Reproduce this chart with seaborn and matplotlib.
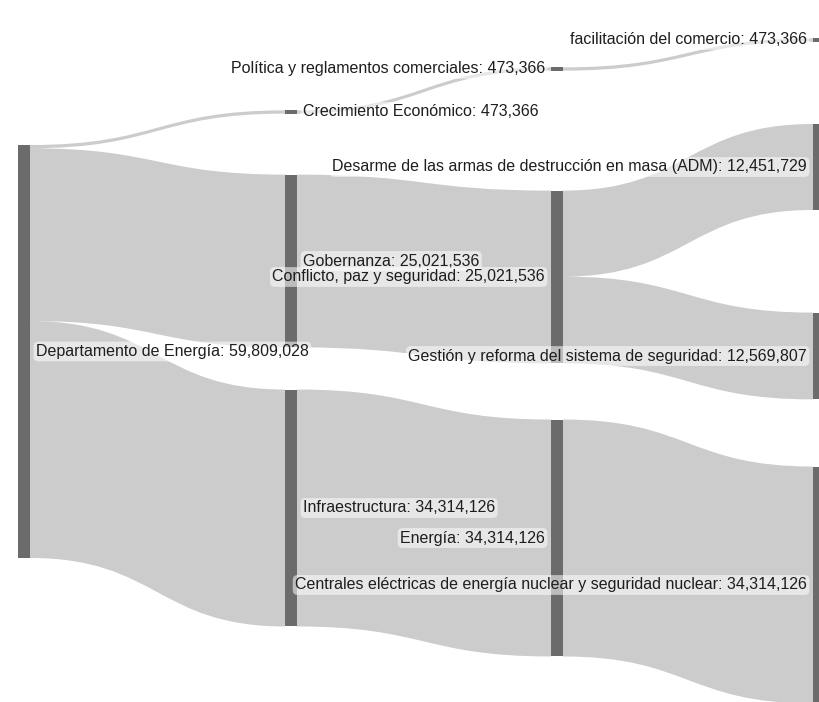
import numpy as np
import matplotlib
matplotlib.use("Agg")
import matplotlib.pyplot as plt
from matplotlib.path import Path
from matplotlib.patches import PathPatch, Rectangle
import seaborn as sns

# ---------------- data ----------------
node_names = [
    "Departamento de Energía",
    "Crecimiento Económico",
    "Gobernanza",
    "Infraestructura",
    "Política y reglamentos comerciales",
    "Conflicto, paz y seguridad",
    "Energía",
    "facilitación del comercio",
    "Desarme de las armas de destrucción en masa (ADM)",
    "Gestión y reforma del sistema de seguridad",
    "Centrales eléctricas de energía nuclear y seguridad nuclear",
]
link_source = [0, 0, 0, 1, 2, 3, 4, 5, 5, 6]
link_target = [1, 2, 3, 4, 5, 6, 7, 8, 9, 10]
link_value = [473366, 25021536, 34314126, 473366, 25021536, 34314126,
              473366, 12451729, 12569807, 34314126]

# ---------------- layout (positions / style, in pixel frame) ----------------
node_col_left = [18, 285, 285, 285, 551, 551, 551, 813, 813, 813, 813]
node_center = [351.5, 112, 261, 508, 69, 277, 538, 40, 167, 356, 585]
node_w = 12
px_per_unit = 413.0 / 59809028
node_color = "#6b6b6b"
link_color = (0, 0, 0, 0.2)
W, H = 820, 702

sns.set_theme(style="white")
plt.rcParams["font.family"] = ["Liberation Sans", "DejaVu Sans"]

fig = plt.figure(figsize=(W / 100, H / 100), dpi=100)
ax = fig.add_axes([0, 0, 1, 1])
ax.set_xlim(0, W)
ax.set_ylim(H, 0)
ax.axis("off")

n = len(node_names)
inflow = np.zeros(n)
outflow = np.zeros(n)
for s, t, v in zip(link_source, link_target, link_value):
    outflow[s] += v
    inflow[t] += v
node_value = np.maximum(inflow, outflow)
node_h = node_value * px_per_unit
node_top = np.array(node_center) - node_h / 2

# links
out_off = node_top.copy()
in_off = node_top.copy()
order = sorted(range(len(link_value)), key=lambda i: (link_source[i], node_center[link_target[i]]))
for i in order:
    s, t, v = link_source[i], link_target[i], link_value[i]
    w = v * px_per_unit
    x0 = node_col_left[s] + node_w
    x1 = node_col_left[t]
    s0, s1 = out_off[s], out_off[s] + w
    t0, t1 = in_off[t], in_off[t] + w
    out_off[s] += w
    in_off[t] += w
    xm = (x0 + x1) / 2
    verts = [(x0, s0), (xm, s0), (xm, t0), (x1, t0),
             (x1, t1), (xm, t1), (xm, s1), (x0, s1), (x0, s0)]
    codes = [Path.MOVETO, Path.CURVE4, Path.CURVE4, Path.CURVE4,
             Path.LINETO, Path.CURVE4, Path.CURVE4, Path.CURVE4, Path.CLOSEPOLY]
    ax.add_patch(PathPatch(Path(verts, codes), facecolor=link_color, edgecolor="none", zorder=1))

# nodes + labels
for i in range(n):
    ax.add_patch(Rectangle((node_col_left[i], node_top[i]), node_w, max(node_h[i], 2.5),
                           facecolor=node_color, edgecolor="none", zorder=2))
    label = f"{node_names[i]}: {int(node_value[i]):,}"
    if node_col_left[i] < W / 2:
        x, ha = node_col_left[i] + node_w + 6, "left"
    else:
        x, ha = node_col_left[i] - 6, "right"
    ax.text(x, node_center[i], label, ha=ha, va="center", fontsize=11.5, color="#1e1e1e",
            zorder=3,
            bbox=dict(boxstyle="round,pad=0.15,rounding_size=0.3", fc="white", ec="none", alpha=0.55))

fig.savefig("out.png", dpi=100)
